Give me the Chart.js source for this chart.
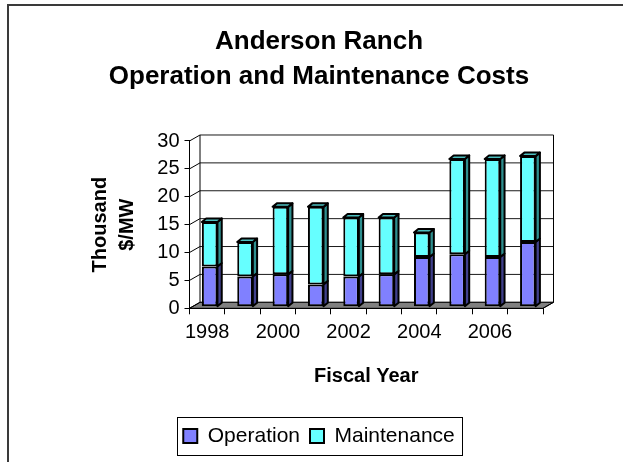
<!DOCTYPE html>
<html>
<head>
<meta charset="utf-8">
<script src="https://cdn.jsdelivr.net/npm/chart.js@4.4.0/dist/chart.umd.min.js"></script>
<style>
  html, body { margin: 0; padding: 0; background: #ffffff; }
  #c { display: block; }
</style>
</head>
<body>
<canvas id="c" width="623" height="462"></canvas>
<script>
// ---- data ----
const years = ['1998', '1999', '2000', '2001', '2002', '2003', '2004', '2005', '2006', '2007'];
const xTickLabels = ['1998', '', '2000', '', '2002', '', '2004', '', '2006', ''];
const operation = [7.2, 5.4, 5.8, 4.0, 5.4, 5.8, 8.9, 9.4, 8.9, 11.6];
const maintenance = [8.0, 6.2, 12.1, 13.9, 10.6, 10.2, 4.4, 17.1, 17.6, 15.4];
const seriesNames = ['Operation', 'Maintenance'];
const titleLines = ['Anderson Ranch', 'Operation and Maintenance Costs'];
const yTitleLines = ['Thousand', '$/MW'];
const xTitle = 'Fiscal Year';

// ---- styles ----
const FRONT = ['#8080FF', '#66FFFF'];
const SIDE = ['#40408C', '#2E8F8F'];
const TOP = ['#6666CC', '#4CBFBF'];
const DEPTH = { dx: 10.5, dy: -6 };       // back wall offset
const BAR_SHIFT = { dx: 2.5, dy: -1.6 };   // bars sit slightly behind front plane
const BAR_DEPTH = { dx: 4.3, dy: -3.5 };

Chart.defaults.font.family = "'Liberation Sans', Arial, sans-serif";
Chart.defaults.color = '#000';

const threeD = {
  id: 'threeD',
  beforeDraw(chart) {
    const { ctx, chartArea: a, scales } = chart;
    const y = scales.y;
    ctx.save();
    // floor
    ctx.fillStyle = '#808080';
    ctx.beginPath();
    ctx.moveTo(a.left, a.bottom);
    ctx.lineTo(a.right, a.bottom);
    ctx.lineTo(a.right + DEPTH.dx, a.bottom + DEPTH.dy);
    ctx.lineTo(a.left + DEPTH.dx, a.bottom + DEPTH.dy);
    ctx.closePath();
    ctx.fill();
    ctx.strokeStyle = '#000';
    ctx.lineWidth = 1;
    ctx.stroke();
    // back wall grid lines + connectors
    y.ticks.forEach(t => {
      const py = y.getPixelForValue(t.value);
      ctx.strokeStyle = '#1a1a1a';
      ctx.beginPath();
      ctx.moveTo(a.left + DEPTH.dx, py + DEPTH.dy);
      ctx.lineTo(a.right + DEPTH.dx, py + DEPTH.dy);
      ctx.stroke();
      ctx.strokeStyle = '#000';
      ctx.beginPath();
      ctx.moveTo(a.left, py);
      ctx.lineTo(a.left + DEPTH.dx, py + DEPTH.dy);
      ctx.stroke();
    });
    // back wall verticals
    ctx.strokeStyle = '#000';
    ctx.beginPath();
    ctx.moveTo(a.left + DEPTH.dx, a.top + DEPTH.dy);
    ctx.lineTo(a.left + DEPTH.dx, a.bottom + DEPTH.dy);
    ctx.moveTo(a.right + DEPTH.dx, a.top + DEPTH.dy);
    ctx.lineTo(a.right + DEPTH.dx, a.bottom + DEPTH.dy);
    ctx.moveTo(a.right, a.bottom);
    ctx.lineTo(a.right + DEPTH.dx, a.bottom + DEPTH.dy);
    ctx.stroke();
    ctx.restore();
  },
  beforeDatasetsDraw(chart) {
    chart.ctx.save();
    chart.ctx.translate(BAR_SHIFT.dx, BAR_SHIFT.dy);
  },
  afterDatasetsDraw(chart) {
    const ctx = chart.ctx;
    const n = chart.data.datasets.length;
    for (let di = 0; di < n; di++) {
      const meta = chart.getDatasetMeta(di);
      meta.data.forEach(el => {
        const { x, y, base, width } = el.getProps(['x', 'y', 'base', 'width'], true);
        const l = x - width / 2, r = x + width / 2;
        const top = Math.min(y, base), bot = Math.max(y, base);
        ctx.lineWidth = 2;
        ctx.strokeStyle = '#000';
        ctx.lineJoin = 'round';
        // side face
        ctx.fillStyle = SIDE[di];
        ctx.beginPath();
        ctx.moveTo(r, top);
        ctx.lineTo(r + BAR_DEPTH.dx, top + BAR_DEPTH.dy);
        ctx.lineTo(r + BAR_DEPTH.dx, bot + BAR_DEPTH.dy);
        ctx.lineTo(r, bot);
        ctx.closePath();
        ctx.fill();
        ctx.stroke();
        if (di === n - 1) {
          ctx.fillStyle = TOP[di];
          ctx.beginPath();
          ctx.moveTo(l, top);
          ctx.lineTo(l + BAR_DEPTH.dx, top + BAR_DEPTH.dy);
          ctx.lineTo(r + BAR_DEPTH.dx, top + BAR_DEPTH.dy);
          ctx.lineTo(r, top);
          ctx.closePath();
          ctx.fill();
          ctx.stroke();
        }
      });
    }
    ctx.restore();
  },
  afterDraw(chart) {
    const ctx = chart.ctx;
    ctx.save();
    // legend frame
    const hb = chart.legend.legendHitBoxes;
    if (hb && hb.length) {
      const left = Math.min(...hb.map(h => h.left)) - 6.6;
      const right = Math.max(...hb.map(h => h.left + h.width)) + 7;
      const top = Math.min(...hb.map(h => h.top)) - 8.5;
      const bottom = Math.max(...hb.map(h => h.top + h.height)) + 8.5;
      ctx.strokeStyle = '#000';
      ctx.lineWidth = 1;
      ctx.strokeRect(Math.round(left) + 0.5, Math.round(top) + 0.5, Math.round(right - left), Math.round(bottom - top));
    }
    // outer chart frame (cropped)
    ctx.fillStyle = '#3a3a3a';
    ctx.fillRect(7, 4, 616, 2);
    ctx.fillRect(7, 4, 2, 458);
    ctx.restore();
  }
};

new Chart(document.getElementById('c'), {
  type: 'bar',
  data: {
    labels: years,
    datasets: [
      { label: seriesNames[0], data: operation, backgroundColor: FRONT[0], borderColor: '#000', borderWidth: 2, borderSkipped: false, clip: false },
      { label: seriesNames[1], data: maintenance, backgroundColor: FRONT[1], borderColor: '#000', borderWidth: 2, borderSkipped: false, clip: false }
    ]
  },
  options: {
    responsive: false,
    animation: false,
    devicePixelRatio: 1,
    layout: { padding: { left: 15, right: 0, top: 0, bottom: 5.5 } },
    datasets: { bar: { barPercentage: 0.44, categoryPercentage: 1.0 } },
    plugins: {
      tooltip: { enabled: false },
      title: {
        display: true,
        text: titleLines,
        color: '#000',
        font: { size: 26, weight: 'bold', lineHeight: 1.346 },
        padding: { top: 24.2, bottom: 46.8 }
      },
      legend: {
        position: 'bottom',
        labels: {
          color: '#000',
          font: { size: 21 },
          boxWidth: 14,
          boxHeight: 14,
          padding: 10
        }
      }
    },
    scales: {
      x: {
        stacked: true,
        grid: { display: true, drawOnChartArea: false, drawTicks: true, tickLength: 6, color: '#000', offset: true },
        border: { display: true, color: '#000', width: 1 },
        ticks: {
          autoSkip: false, maxRotation: 0, minRotation: 0, padding: 6,
          font: { size: 20 }, color: '#000',
          callback: (v, i) => xTickLabels[i]
        },
        title: {
          display: true, text: xTitle, color: '#000',
          font: { size: 20, weight: 'bold', lineHeight: 1.2 },
          padding: { top: 0, bottom: 27.5 }
        },
        afterFit: s => { s.height = 107.2; }
      },
      y: {
        stacked: true,
        min: 0, max: 30,
        grid: { display: true, drawOnChartArea: false, drawTicks: true, tickLength: 5, color: '#000' },
        border: { display: true, color: '#000', width: 1 },
        ticks: { stepSize: 5, padding: 5, font: { size: 20 }, color: '#000' },
        title: {
          display: true, text: yTitleLines, color: '#000',
          font: { size: 20, weight: 'bold', lineHeight: 1.375 },
          padding: { top: 71.25, bottom: 0 }
        },
        afterFit: s => { s.width = 174.5; }
      },
      spacer: {
        type: 'linear', position: 'right', display: true,
        grid: { display: false }, border: { display: false },
        ticks: { display: false },
        afterFit: s => { s.width = 80; }
      }
    }
  },
  plugins: [threeD]
});
</script>
</body>
</html>
